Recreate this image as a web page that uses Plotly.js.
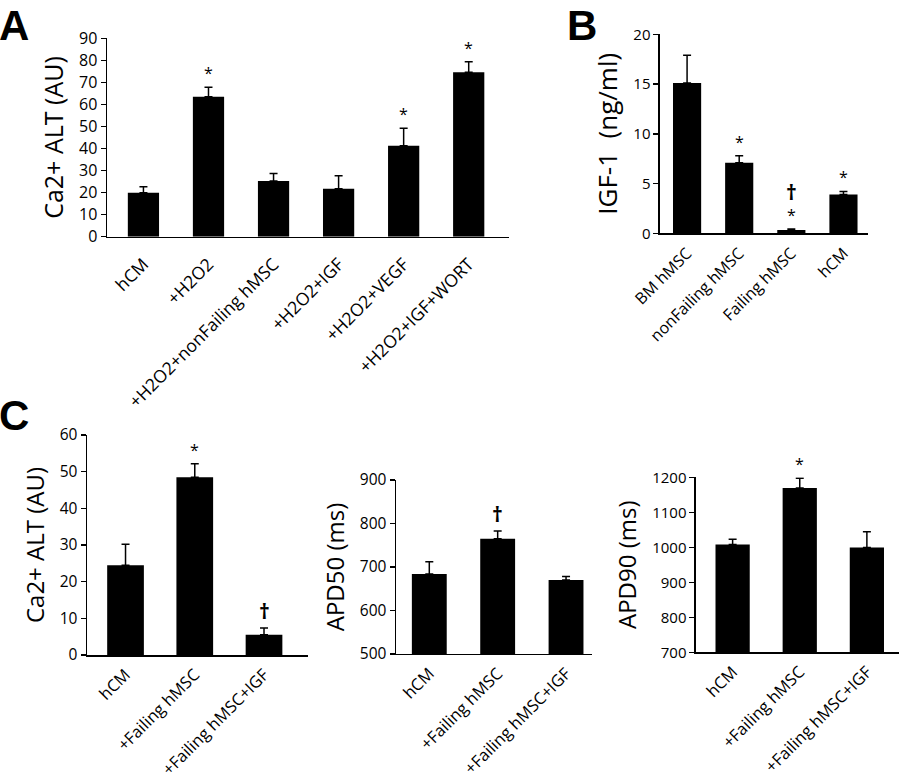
<!DOCTYPE html>
<html>
<head>
<meta charset="utf-8">
<script src="https://cdn.plot.ly/plotly-3.0.1.min.js"></script>
<style>html,body{margin:0;padding:0;background:#fff;}#chart{width:900px;height:782px;}</style>
</head>
<body>
<div id="chart"></div>
<script>
// Panel A
const catsA = ["hCM", "+H2O2", "+H2O2+nonFailing hMSC", "+H2O2+IGF", "+H2O2+VEGF", "+H2O2+IGF+WORT"];
const valsA = [20.0, 63.5, 25.3, 21.8, 41.3, 74.6];
const errA  = [2.7, 4.3, 3.4, 5.9, 7.9, 4.8];
const markA = ["", "*", "", "", "*", "*"];
const ticksA = [0, 10, 20, 30, 40, 50, 60, 70, 80, 90];

// Panel B
const catsB = ["BM hMSC", "nonFailing hMSC", "Failing hMSC", "hCM"];
const valsB = [15.1, 7.1, 0.33, 3.9];
const errB  = [2.8, 0.7, 0.1, 0.3];
const markB = ["", "*", "†<br>*", "*"];
const ticksB = [0, 5, 10, 15, 20];

// Panel C
const catsC = ["hCM", "+Failing hMSC", "+Failing hMSC+IGF"];
const valsC1 = [24.5, 48.5, 5.5];
const errC1  = [5.7, 3.7, 1.9];
const markC1 = ["", "*", "†"];
const ticksC1 = [0, 10, 20, 30, 40, 50, 60];

const valsC2 = [684, 765, 670];
const errC2  = [28, 18, 8];
const markC2 = ["", "†", ""];
const ticksC2 = [500, 600, 700, 800, 900];

const valsC3 = [1008, 1169, 999];
const errC3  = [15, 28, 45];
const markC3 = ["", "*", ""];
const ticksC3 = [700, 800, 900, 1000, 1100, 1200];

const FONT = "Open Sans, Noto Sans, sans-serif";

function barTrace(cats, vals, errs, xa, ya, w) {
  return {
    type: "bar", x: cats, y: vals, xaxis: xa, yaxis: ya, width: w,
    marker: {color: "#000", line: {width: 0}},
    error_y: {type: "data", array: errs, arrayminus: errs.map(() => 0), symmetric: false,
              color: "#000", thickness: 1.5, width: 4},
    hoverinfo: "none", showlegend: false
  };
}

const data = [
  barTrace(catsA, valsA, errA, "x", "y", 0.48),
  barTrace(catsB, valsB, errB, "x2", "y2", 0.54),
  barTrace(catsC, valsC1, errC1, "x3", "y3", 0.53),
  barTrace(catsC, valsC2, errC2, "x4", "y4", 0.51),
  barTrace(catsC, valsC3, errC3, "x5", "y5", 0.51)
];

function xAxis(dom, rng, anchor, cats, fs, pad) {
  return {
    domain: dom, range: rng, anchor: anchor, type: "category",
    categoryorder: "array", categoryarray: cats,
    showline: true, linecolor: "#000", linewidth: 1.5,
    ticks: "outside", ticklen: pad, tickcolor: "rgba(0,0,0,0)",
    tickangle: -45, showgrid: false, zeroline: false,
    tickfont: {family: FONT, size: fs, color: "#000"}
  };
}
function yAxis(dom, rng, anchor, tv, title, fs, tfs) {
  return {
    domain: dom, range: rng, anchor: anchor, tickvals: tv,
    showline: true, linecolor: "#000", linewidth: 1.5, ticks: "outside", ticklen: 5,
    tickcolor: "#000", tickwidth: 1.5, showgrid: false, zeroline: false,
    tickfont: {family: FONT, size: fs, color: "#000"},
    title: {text: title, font: {family: FONT, size: tfs, color: "#000"}, standoff: 8}
  };
}

const annotations = [];
function addMarks(cats, vals, errs, marks, xa, ya) {
  marks.forEach((m, i) => {
    if (!m) return;
    const txt = m.replace("†", '<span style="font-size:21px;font-weight:bold">†</span>');
    annotations.push({
      xref: xa, yref: ya, x: cats[i], y: vals[i] + errs[i], text: txt,
      showarrow: false, yanchor: "bottom", yshift: 1,
      font: {family: FONT, size: 16, color: "#000"}
    });
  });
}
addMarks(catsA, valsA, errA, markA, "x", "y");
addMarks(catsB, valsB, errB, markB, "x2", "y2");
addMarks(catsC, valsC1, errC1, markC1, "x3", "y3");
addMarks(catsC, valsC2, errC2, markC2, "x4", "y4");
addMarks(catsC, valsC3, errC3, markC3, "x5", "y5");

[["A", -0.003, 1.0], ["B", 0.628, 1.0], ["C", -0.003, 0.5013]].forEach(p => {
  annotations.push({
    xref: "paper", yref: "paper", x: p[1], y: p[2], xanchor: "left", yanchor: "top",
    text: "<b>" + p[0] + "</b>", showarrow: false,
    font: {family: "Liberation Sans, Arial, sans-serif", size: 42, color: "#000"}
  });
});

const layout = {
  width: 900, height: 782, autosize: false,
  margin: {l: 0, r: 0, t: 0, b: 0},
  paper_bgcolor: "#fff", plot_bgcolor: "#fff",
  showlegend: false,
  xaxis:  xAxis([0.1189, 0.5656], [-0.56, 5.62], "y", catsA, 17.5, 9),
  yaxis:  yAxis([0.6973, 0.951], [0, 90], "x", ticksA, "Ca2+ ALT (AU)", 16, 25),
  xaxis2: xAxis([0.7333, 0.9644], [-0.52, 3.47], "y2", catsB, 16, 3),
  yaxis2: yAxis([0.7017, 0.9561], [0, 20], "x2", ticksB, "IGF-1\u00a0\u00a0(ng/ml)", 15, 26),
  xaxis3: xAxis([0.0967, 0.3422], [-0.556, 2.635], "y3", catsC, 16.5, 2),
  yaxis3: yAxis([0.1624, 0.4437], [0, 60], "x3", ticksC1, "Ca2+ ALT (AU)", 15.5, 24),
  xaxis4: xAxis([0.44, 0.6578], [-0.487, 2.38], "y4", catsC, 16.5, 2),
  yaxis4: yAxis([0.1637, 0.3862], [500, 900], "x4", ticksC2, "APD50 (ms)", 15.5, 24),
  xaxis5: xAxis([0.7733, 0.999], [-0.546, 2.48], "y5", catsC, 16.5, 2),
  yaxis5: yAxis([0.1659, 0.3897], [700, 1200], "x5", ticksC3, "APD90 (ms)", 15, 24),
  annotations: annotations
};

Plotly.newPlot("chart", data, layout, {staticPlot: true, displayModeBar: false});
</script>
</body>
</html>
